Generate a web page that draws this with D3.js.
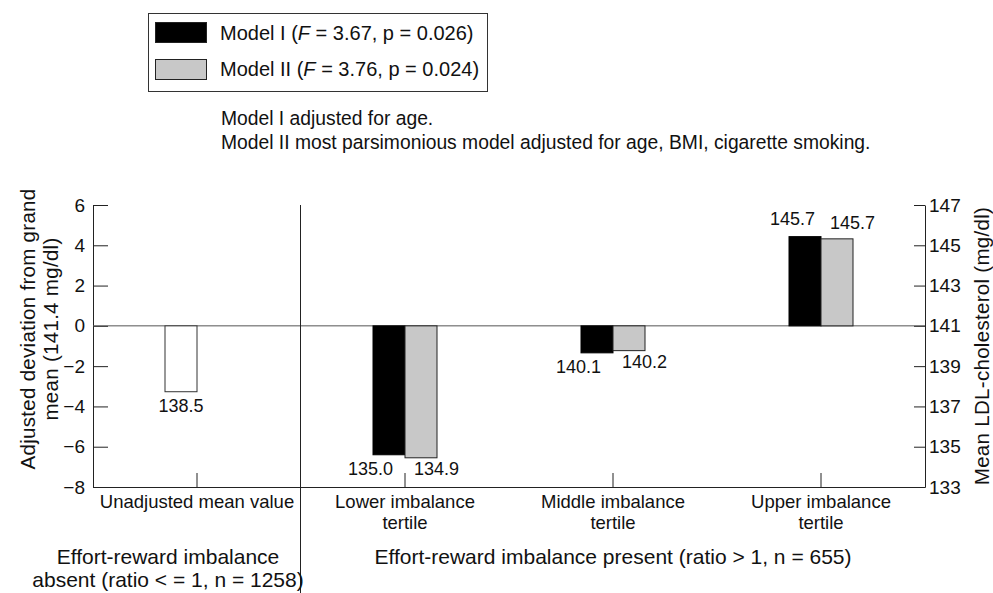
<!DOCTYPE html>
<html>
<head>
<meta charset="utf-8">
<script src="https://cdnjs.cloudflare.com/ajax/libs/d3/7.8.5/d3.min.js"></script>
<style>
  body { margin: 0; background: #fff; }
  svg { font-family: "Liberation Sans", Arial, sans-serif; font-size: 18px; }
  .axis path, .axis line { stroke: #222; }
  .axis text { font-size: 19px; fill: #111; font-family: "Liberation Sans", Arial, sans-serif; }
  .legend-text { font-size: 20px; }
  .note { font-size: 19.3px; }
  .title { font-size: 20.5px; letter-spacing: 0.3px; }
  .cat { font-size: 18.5px; }
  .group { font-size: 21px; }
</style>
</head>
<body>
<div id="chart"></div>
<script>
// categories along the bottom (two-line labels)
const categories = ['unadj', 'lower', 'middle', 'upper'];
const categoryLabels = [
	['Unadjusted mean value'],
	['Lower imbalance', 'tertile'],
	['Middle imbalance', 'tertile'],
	['Upper imbalance', 'tertile']
];

// adjusted deviation from grand mean (left axis units)
const unadjusted = [-3.27];
const unadjustedLabels = ['138.5'];
const model1 = [null, -6.4, -1.34, 4.43];
const model2 = [null, -6.55, -1.23, 4.32];
const model1Labels = [null, '135.0', '140.1', '145.7'];
const model2Labels = [null, '134.9', '140.2', '145.7'];

const leftTicks = [-8, -6, -4, -2, 0, 2, 4, 6];
const rightTicks = [133, 135, 137, 139, 141, 143, 145, 147];

const groupLabels = [
	{lines: ['Effort-reward imbalance', 'absent (ratio < = 1, n = 1258)'], cats: ['unadj']},
	{lines: ['Effort-reward imbalance present (ratio > 1, n = 655)'], cats: ['lower', 'middle', 'upper']}
];

const W = 993, H = 593;
const L = 93, R = 925, T = 205, B = 487;

const svg = d3.select('#chart').append('svg')
	.attr('width', W)
	.attr('height', H);

const x = d3.scaleBand().domain(categories).range([L, R]).padding(0);
const y = d3.scaleLinear().domain([-8, 6]).range([B, T]);
const y2 = d3.scaleLinear().domain([133, 147]).range([B, T]);
const bw = 32;

////////////////////////////////////////////////////////////////////
// legend + notes

const legend = svg.append('g');
legend.append('rect')
	.attr('x', 148.5).attr('y', 13.5)
	.attr('width', 339).attr('height', 78)
	.attr('fill', 'none').attr('stroke', '#333');

const legendItems = [
	{fill: '#000', name: 'Model I', f: '3.67', p: '0.026'},
	{fill: '#c8c8c8', name: 'Model II', f: '3.76', p: '0.024'}
];
legendItems.forEach(function(d, i) {
	legend.append('rect')
		.attr('x', 155.5).attr('y', 22.5 + i * 37)
		.attr('width', 51).attr('height', 20)
		.attr('fill', d.fill).attr('stroke', '#222');
	const t = legend.append('text')
		.attr('class', 'legend-text')
		.attr('x', 220).attr('y', 40 + i * 36)
		.attr('fill', '#111');
	t.append('tspan').text(d.name + ' (');
	t.append('tspan').attr('font-style', 'italic').text('F');
	t.append('tspan').text(' = ' + d.f + ', p = ' + d.p + ')');
});

svg.append('text').attr('class', 'note').attr('x', 221).attr('y', 125).attr('fill', '#111')
	.text('Model I adjusted for age.');
svg.append('text').attr('class', 'note').attr('x', 221).attr('y', 149).attr('fill', '#111')
	.text('Model II most parsimonious model adjusted for age, BMI, cigarette smoking.');

////////////////////////////////////////////////////////////////////
// axes

const axisY = d3.axisLeft(y)
	.tickValues(leftTicks)
	.tickSizeInner(-15)
	.tickSizeOuter(0)
	.tickPadding(8);
svg.append('g')
	.attr('class', 'axis axis-y')
	.attr('transform', `translate(${L},0)`)
	.call(axisY);

const axisY2 = d3.axisRight(y2)
	.tickValues(rightTicks)
	.tickSizeInner(-11)
	.tickSizeOuter(0)
	.tickPadding(4);
svg.append('g')
	.attr('class', 'axis axis-y2')
	.attr('transform', `translate(${R},0)`)
	.call(axisY2);

const axisX = d3.axisBottom(x)
	.tickSizeInner(-14)
	.tickSizeOuter(0)
	.tickFormat('');
svg.append('g')
	.attr('class', 'axis axis-x')
	.attr('transform', `translate(0,${B})`)
	.call(axisX);

// zero line
svg.append('line')
	.attr('x1', L).attr('x2', R)
	.attr('y1', y(0)).attr('y2', y(0))
	.attr('stroke', '#555');

// divider between absent / present
svg.append('line')
	.attr('x1', x('lower') - 0.5).attr('x2', x('lower') - 0.5)
	.attr('y1', T).attr('y2', H)
	.attr('stroke', '#222');

// axis titles
svg.append('text')
	.attr('class', 'title')
	.attr('transform', `translate(35,329) rotate(-90)`)
	.attr('text-anchor', 'middle').attr('fill', '#111')
	.text('Adjusted deviation from grand');
svg.append('text')
	.attr('class', 'title')
	.attr('transform', `translate(58,329) rotate(-90)`)
	.attr('text-anchor', 'middle').attr('fill', '#111')
	.text('mean (141.4 mg/dl)');
svg.append('text')
	.attr('class', 'title')
	.attr('transform', `translate(989,346) rotate(-90)`)
	.attr('text-anchor', 'middle').attr('fill', '#111')
	.text('Mean LDL-cholesterol (mg/dl)');

////////////////////////////////////////////////////////////////////
// bars

const cx = function(c) { return x(c) + x.bandwidth() / 2; };

function barY(v) { return Math.min(y(v), y(0)); }
function barH(v) { return Math.abs(y(v) - y(0)); }

// unadjusted (white, in the first slot)
svg.selectAll('.bar-u')
	.data(unadjusted)
	.enter().append('rect')
	.attr('class', 'bar-u')
	.attr('x', cx('unadj') - bw)
	.attr('y', d => barY(d))
	.attr('width', bw)
	.attr('height', d => barH(d))
	.attr('fill', '#fff')
	.attr('stroke', '#333');

svg.selectAll('.lab-u')
	.data(unadjusted)
	.enter().append('text')
	.attr('class', 'lab-u')
	.attr('x', cx('unadj') - bw / 2)
	.attr('y', d => y(d) + 20)
	.attr('text-anchor', 'middle').attr('fill', '#111')
	.text((d, i) => unadjustedLabels[i]);

const m1 = categories.map((c, i) => ({c: c, v: model1[i], lab: model1Labels[i]})).filter(d => d.v !== null);
const m2 = categories.map((c, i) => ({c: c, v: model2[i], lab: model2Labels[i]})).filter(d => d.v !== null);

svg.selectAll('.bar-m1')
	.data(m1)
	.enter().append('rect')
	.attr('class', 'bar-m1')
	.attr('x', d => cx(d.c) - bw)
	.attr('y', d => barY(d.v))
	.attr('width', bw)
	.attr('height', d => barH(d.v))
	.attr('fill', '#000')
	.attr('stroke', '#000');

svg.selectAll('.bar-m2')
	.data(m2)
	.enter().append('rect')
	.attr('class', 'bar-m2')
	.attr('x', d => cx(d.c))
	.attr('y', d => barY(d.v))
	.attr('width', bw)
	.attr('height', d => barH(d.v))
	.attr('fill', '#c8c8c8')
	.attr('stroke', '#222');

svg.selectAll('.lab-m1')
	.data(m1)
	.enter().append('text')
	.attr('class', 'lab-m1')
	.attr('x', d => cx(d.c) - (d.v > 0 ? 6 : 12))
	.attr('y', d => d.v > 0 ? y(d.v) - 12 : y(d.v) + 20)
	.attr('text-anchor', 'end').attr('fill', '#111')
	.text(d => d.lab);

svg.selectAll('.lab-m2')
	.data(m2)
	.enter().append('text')
	.attr('class', 'lab-m2')
	.attr('x', d => cx(d.c) + 9)
	.attr('y', d => d.v > 0 ? y(d.v) - 10 : y(d.v) + 17)
	.attr('text-anchor', 'start').attr('fill', '#111')
	.text(d => d.lab);

////////////////////////////////////////////////////////////////////
// category and group labels

categoryLabels.forEach(function(lines, i) {
	const t = svg.append('text')
		.attr('class', 'cat')
		.attr('text-anchor', 'middle').attr('fill', '#111');
	lines.forEach(function(s, j) {
		t.append('tspan')
			.attr('x', cx(categories[i]))
			.attr('y', 508 + j * 21)
			.text(s);
	});
});

groupLabels.forEach(function(g) {
	const xs = g.cats.map(cx);
	let mid = (d3.min(xs) + d3.max(xs)) / 2;
	if (g.cats.length === 1) mid = cx(g.cats[0]) - 29;
	const t = svg.append('text')
		.attr('class', 'group')
		.attr('text-anchor', 'middle').attr('fill', '#111');
	g.lines.forEach(function(s, j) {
		t.append('tspan')
			.attr('x', mid)
			.attr('y', 564 + j * 23)
			.text(s);
	});
});
</script>
</body>
</html>
